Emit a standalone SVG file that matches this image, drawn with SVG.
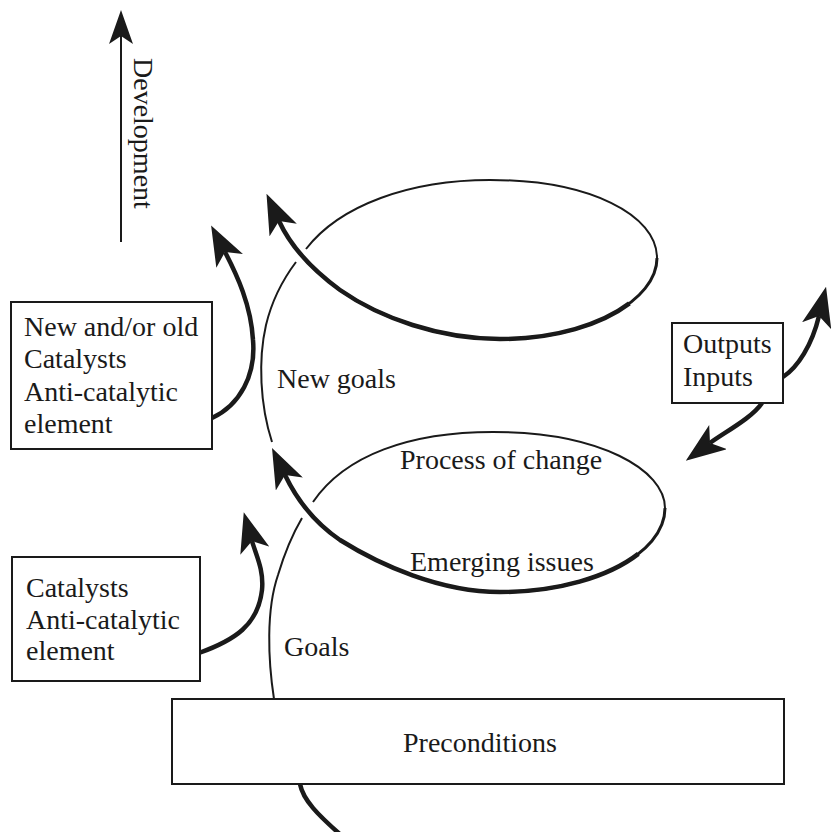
<svg xmlns="http://www.w3.org/2000/svg" width="834" height="832" viewBox="0 0 834 832">
  <style>
    .lbl { font-family: "Liberation Serif", "Times New Roman", serif; font-size: 28px; fill: #1a1a1a; }
    .box { fill: #ffffff; stroke: #1a1a1a; stroke-width: 2; }
    .thin { fill: none; stroke: #1a1a1a; stroke-width: 2; }
    .mid { fill: none; stroke: #1a1a1a; stroke-width: 3; }
    .thick { fill: none; stroke: #1a1a1a; stroke-width: 4.5; }
    .late { stroke-dasharray: 0 55 3000; }
  </style>
  <defs>
    <marker id="head" markerUnits="userSpaceOnUse" markerWidth="40" markerHeight="30" refX="10" refY="15" orient="auto">
      <path d="M0,0 L40,15 L0,30 L10,15 Z" fill="#1a1a1a"/>
    </marker>
    <marker id="headS" markerUnits="userSpaceOnUse" markerWidth="34" markerHeight="24" refX="8" refY="12" orient="auto">
      <path d="M0,0 L34,12 L0,24 L8,12 Z" fill="#1a1a1a"/>
    </marker>
  </defs>
  <rect width="834" height="832" fill="#ffffff"/>

  <g id="connectors">
    <!-- Development axis -->
    <path class="thin" d="M121,242 L121,36" marker-end="url(#headS)"/>
    <!-- upper loop: thin rising part and top arc -->
    <path class="thin" d="M272,442 C260,405 258,360 266,325 C272,300 284,278 296,262"/>
    <path class="thin" d="M306,249 C340,205 410,180 490,180 C590,180 657,215 657,258"/>
    <!-- upper loop: lower part thickening into arrow -->
    <path class="mid" d="M657,258 C657,300 590,339 500,339 C440,339 380,318 340,290 C310,268 290,245 279,221"/>
    <path class="thick late" d="M657,258 C657,300 590,339 500,339 C440,339 380,318 340,290 C310,268 290,245 279,221" marker-end="url(#head)"/>
    <!-- lower loop: thin rising part (Goals) and top arc -->
    <path class="thin" d="M274,699 C268,660 266,610 278,575 C284,555 292,535 302,518"/>
    <path class="thin" d="M313,502 C345,455 410,432 493,432 C600,432 665,470 665,508"/>
    <!-- lower loop: lower part thickening into arrow -->
    <path class="mid" d="M665,508 C665,555 590,592 500,592 C440,592 380,565 340,540 C315,523 297,500 285,475"/>
    <path class="thick late" d="M665,508 C665,555 590,592 500,592 C440,592 380,565 340,540 C315,523 297,500 285,475" marker-end="url(#head)"/>
    <!-- catalyst arrows -->
    <path class="thick" d="M212,418 C240,405 256,375 253,340 C251,305 237,275 225,252" marker-end="url(#head)"/>
    <path class="thick" d="M199,653 C235,640 258,625 262,590 C264,570 256,555 252,541" marker-end="url(#head)"/>
    <!-- outputs / inputs arrows -->
    <path class="thick" d="M783,377 C798,367 812,345 819,316" marker-end="url(#head)"/>
    <path class="thick" d="M762,403 C752,418 725,432 710,443" marker-end="url(#head)"/>
    <!-- curve below preconditions -->
    <path class="thick" d="M300,784 C303,800 318,815 342,836"/>
  </g>

  <g id="development">
    <text class="lbl" transform="translate(134,58) rotate(90)">Development</text>
  </g>

  <g id="box-new-catalysts">
    <rect class="box" x="11" y="302" width="201" height="147"/>
    <text class="lbl" x="24" y="336">New and/or old</text>
    <text class="lbl" x="24" y="368">Catalysts</text>
    <text class="lbl" x="24" y="401">Anti-catalytic</text>
    <text class="lbl" x="24" y="433">element</text>
  </g>

  <g id="box-catalysts">
    <rect class="box" x="12" y="557" width="188" height="124"/>
    <text class="lbl" x="26" y="597">Catalysts</text>
    <text class="lbl" x="26" y="629">Anti-catalytic</text>
    <text class="lbl" x="26" y="660">element</text>
  </g>

  <g id="box-outputs">
    <rect class="box" x="672" y="323" width="111" height="80"/>
    <text class="lbl" x="683" y="353">Outputs</text>
    <text class="lbl" x="683" y="386">Inputs</text>
  </g>

  <g id="box-preconditions">
    <rect class="box" x="172" y="699" width="612" height="85"/>
    <text class="lbl" x="403" y="752">Preconditions</text>
  </g>

  <g id="labels">
    <text class="lbl" x="277" y="388">New goals</text>
    <text class="lbl" x="400" y="469">Process of change</text>
    <text class="lbl" x="410" y="571">Emerging issues</text>
    <text class="lbl" x="284" y="656">Goals</text>
  </g>
</svg>
